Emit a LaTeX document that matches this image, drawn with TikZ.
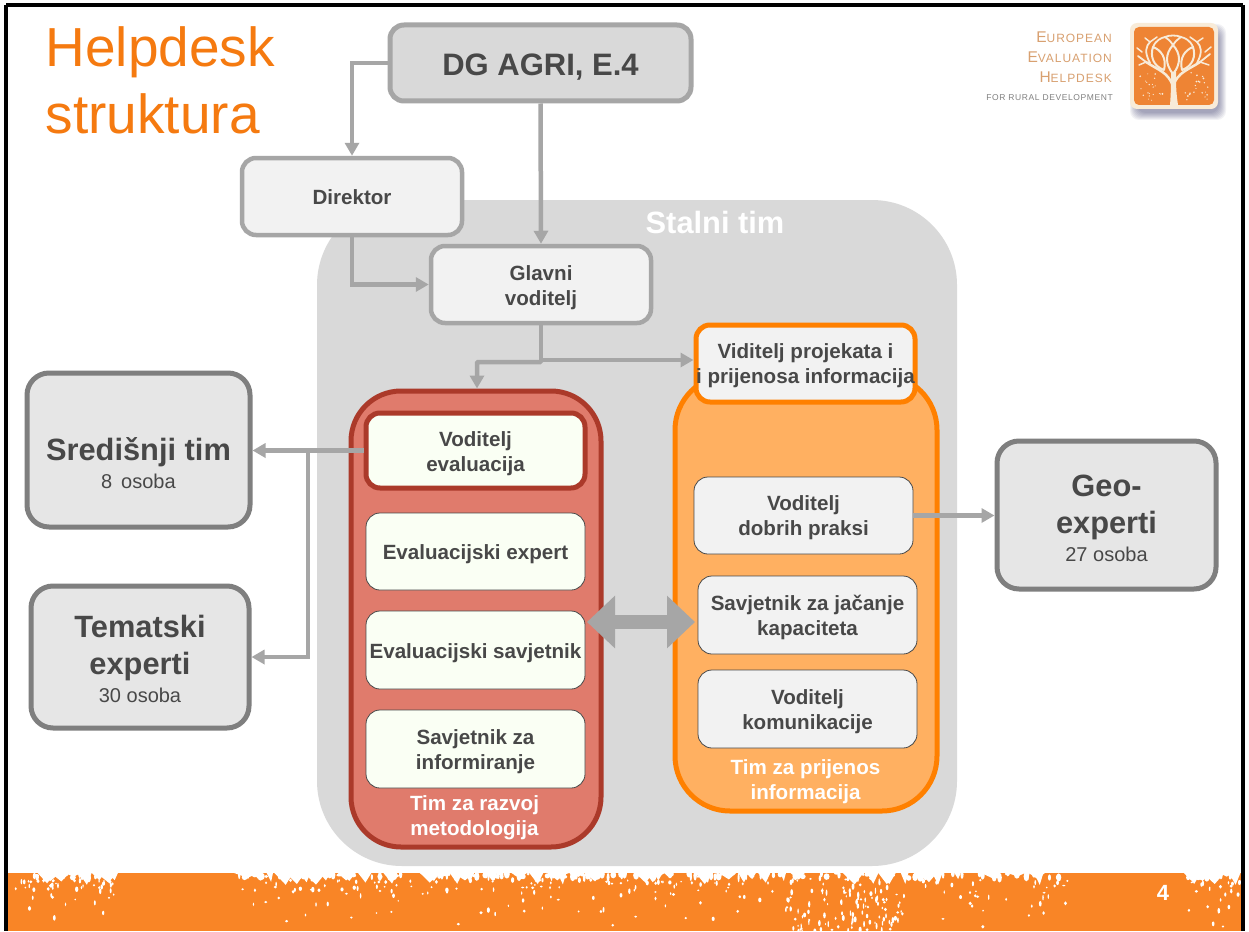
\documentclass[tikz,border=0pt]{standalone}
\usepackage{fontspec}
\setmainfont{Liberation Sans}
\usetikzlibrary{arrows.meta,calc}
\definecolor{txt}{HTML}{484848}
\definecolor{conn}{HTML}{A6A6A6}
\definecolor{bg}{HTML}{D9D9D9}
\definecolor{light}{HTML}{F2F2F2}
\definecolor{cream}{HTML}{FAFFF4}
\definecolor{org}{HTML}{FF8000}
\definecolor{orgfill}{HTML}{FFB061}
\definecolor{redl}{HTML}{AB3A2A}
\definecolor{redf}{HTML}{E07B6C}
\definecolor{band}{HTML}{F98526}
\definecolor{dark}{HTML}{7F7F7F}
\definecolor{side}{HTML}{E6E6E6}
\definecolor{title}{HTML}{F57A10}
\definecolor{logot}{HTML}{D8A070}
\definecolor{treec}{HTML}{F8EBD8}
\definecolor{logob}{HTML}{EE8434}
\tikzset{
 x=1pt,y=-1pt,
 base/.style={rounded corners=#1,align=center,inner sep=0pt,text=txt,font=\fontsize{20.6}{25}\selectfont\bfseries},
 base/.default=14pt,
 greybox/.style={base,draw=conn,line width=4.5pt,fill=light},
 topbox/.style={base,draw=conn,line width=5pt,fill=bg,font=\fontsize{31}{36}\selectfont\bfseries},
 sidebox/.style={base=22pt,draw=dark,line width=5pt,fill=side,font=\fontsize{30.8}{37}\selectfont\bfseries},
 thinbox/.style={base,draw=txt,line width=0.8pt,fill=cream},
 thinl/.style={base,draw=txt,line width=0.8pt,fill=light},
 grp/.style={base=#1,line width=5pt},
 capt/.style={align=center,inner sep=0pt,text=white,font=\fontsize{20.6}{25}\selectfont\bfseries},
 conn/.style={draw=conn,line width=4.5pt,-{Triangle[length=13pt,width=14pt]}},
 plain/.style={draw=conn,line width=4.5pt},
 speck/.style={fill=white,draw=none},
 logotxt/.style={anchor=base east,inner sep=0pt,text=logot,font=\fontsize{15.5}{16}\selectfont\addfontfeature{LetterSpace=8}},
}
\newcommand{\bx}[6]{\node[#1,minimum width={#5-#3},minimum height={#6-#4}] (#2) at ({(#3+#5)/2},{(#4+#6)/2})}
\newcommand{\num}[1]{{\fontsize{20}{24}\selectfont\mdseries #1}}
\newcommand{\sml}{\fontsize{12}{13}\selectfont}
\newcommand{\dn}[1]{\rule{0pt}{#1pt}}
\begin{document}
\begin{tikzpicture}
\useasboundingbox (0,0) rectangle (1249,931);
\fill[white] (0,0) rectangle (1249,931);
% banner
\fill[band] (8,873) rectangle (1241,931);
\pgfmathsetseed{42}
\foreach \xs/\xw/\n in {14/100/45,238/560/130,920/148/35,1186/55/22}{
 \foreach \i in {1,...,\n}{
  \pgfmathsetmacro{\xa}{\xs+rnd*\xw}
  \pgfmathsetmacro{\ya}{880+rnd*rnd*52}
  \fill[speck] (\xa,\ya) ellipse (0.7+rnd*1 and 0.8+rnd*2);
 }
}
\foreach \i in {1,...,120}{
  \pgfmathsetmacro{\xa}{785+rnd*120}
  \pgfmathsetmacro{\ya}{878+rnd*53}
  \fill[speck] (\xa,\ya) ellipse (0.6+rnd*1 and 0.8+rnd*2.5);
}
\foreach \xs/\xw/\n in {236/832/150,30/85/20,1186/55/16}{
 \foreach \i in {1,...,\n}{
  \pgfmathsetmacro{\xa}{\xs+rnd*\xw}
  \pgfmathsetmacro{\ya}{873+rnd*5}
  \fill[speck] (\xa,\ya) ellipse (1+rnd*2 and 1+rnd*4);
 }
}
\foreach \xs/\xw/\n in {240/825/70,35/78/9,1188/50/7}{
 \foreach \i in {1,...,\n}{
  \pgfmathsetmacro{\xa}{\xs+rnd*\xw}
  \pgfmathsetmacro{\wa}{3+rnd*9}
  \pgfmathsetmacro{\ha}{4+rnd*9}
  \fill[speck] (\xa-\wa,872) -- (\xa+\wa,872) -- (\xa+rnd*2,872+\ha) -- cycle;
 }
}
\node[text=white,font=\fontsize{22}{26}\selectfont\bfseries,inner sep=0pt] (pg) at (1163,893) {4};
% frame
\draw[black,line width=4pt] (6,5) -- (1243,5);
\draw[black,line width=4pt] (6,5) -- (6,931);
\draw[black,line width=4pt] (1243,5) -- (1243,931);
% title
\node[anchor=base west,inner sep=0pt,text=title,font=\fontsize{55}{66}\selectfont] (t1) at (45.5,67) {Helpdesk};
\node[anchor=base west,inner sep=0pt,text=title,font=\fontsize{55}{66}\selectfont] (t2) at (45.5,133) {struktura};
% logo
\node[logotxt] (l1) at (1112,43) {E\sml UROPEAN};
\node[logotxt] (l2) at (1112,63) {E\sml VALUATION};
\node[logotxt] (l3) at (1112,83) {H\sml ELPDESK};
\node[anchor=base east,inner sep=0pt,text=black!50,font=\fontsize{8.5}{10}\selectfont\addfontfeature{LetterSpace=7}] (l4) at (1113,101) {FOR RURAL DEVELOPMENT};
\foreach \d in {0,1,...,7}{
  \fill[blue!25!black,opacity=0.05,rounded corners=9pt] (1130+\d,24+\d) rectangle (1226-\d,120-\d);
}
\fill[treec,rounded corners=7pt] (1130,23) rectangle (1218,109);
\fill[logob,rounded corners=5pt] (1134,27) rectangle (1214,105);
\begin{scope}[line cap=round,line join=round,draw=treec]
 % trunk
 \fill[treec] (1170,105) .. controls (1171,92) and (1171,85) .. (1171,72) -- (1176,72) .. controls (1176,85) and (1176,92) .. (1178,105) -- cycle;
 % main limbs
 \draw[line width=2.5pt] (1173,86) .. controls (1168,72) and (1158,70) .. (1146,62);
 \draw[line width=2.5pt] (1173,86) .. controls (1178,72) and (1188,70) .. (1200,62);
 % central leaves
 \draw[line width=2pt] (1173,74) .. controls (1165,64) and (1165,54) .. (1173,45) .. controls (1181,54) and (1181,64) .. (1173,74);
 \draw[line width=2pt] (1164,70) .. controls (1153,66) and (1150,56) .. (1153,47) .. controls (1161,50) and (1167,58) .. (1164,70);
 \draw[line width=2pt] (1182,70) .. controls (1193,66) and (1196,56) .. (1193,47) .. controls (1185,50) and (1179,58) .. (1182,70);
 % canopy twigs
 \draw[line width=1.8pt] (1146,62) -- (1138,56);
 \draw[line width=1.8pt] (1200,62) -- (1210,54);
 \draw[line width=1.5pt] (1146,62) -- (1139,65);
 \draw[line width=1.5pt] (1200,62) -- (1209,65);
 \draw[line width=1.8pt] (1150,63) .. controls (1144,52) and (1146,46) .. (1150,42);
 \draw[line width=1.8pt] (1197,63) .. controls (1203,52) and (1201,46) .. (1197,42);
 \draw[line width=1.8pt] (1153,47) .. controls (1156,40) and (1161,38) .. (1165,37);
 \draw[line width=1.8pt] (1193,47) .. controls (1190,40) and (1185,38) .. (1181,37);
 \draw[line width=1.8pt] (1173,45) .. controls (1170,40) and (1166,38) .. (1165,37) .. controls (1169,35) and (1177,35) .. (1181,37) .. controls (1180,38) and (1176,40) .. (1173,45);
 \draw[line width=1.5pt] (1150,42) -- (1145,38);
 \draw[line width=1.5pt] (1197,42) -- (1203,38);
 \draw[line width=1.5pt] (1150,42) -- (1157,37);
 \draw[line width=1.5pt] (1197,42) -- (1190,37);
 \draw[line width=1.5pt] (1142,52) -- (1137,48);
 \draw[line width=1.5pt] (1205,52) -- (1211,47);
\end{scope}
\foreach \xs in {1140,1184}{
 \foreach \i in {1,...,22}{
  \pgfmathsetmacro{\xa}{\xs+rnd*24}
  \pgfmathsetmacro{\ya}{72+rnd*30}
  \fill[treec] (\xa,\ya) circle (0.5+rnd*0.5);
 }
}
% big team background
\bx{base=85pt,fill=bg}{stalni}{317}{200}{957}{866} {};
\node[text=white,font=\fontsize{30.8}{34}\selectfont\bfseries,inner sep=0pt] (stalnit) at (715,222) {Stalni tim};
% groups
\bx{grp=50pt,draw=redl,fill=redf}{redg}{351}{391}{601}{847} {};
\bx{grp=55pt,draw=org,fill=orgfill}{orgg}{675}{375}{937}{811} {};
\node[capt] (redc) at (474.5,818) {Tim za razvoj\\metodologija};
\node[capt] (orgc) at (805.5,781.5) {Tim za prijenos\\informacija};
% boxes
\bx{topbox}{dg}{390}{25}{691}{101} {\dn{29}DG AGRI, E.4};
\bx{greybox}{dir}{242}{158}{462}{235} {\dn{17}Direktor};
\bx{greybox}{gl}{431}{246}{651}{323} {\dn{21}Glavni\\voditelj};
\bx{base,draw=org,line width=5pt,fill=light}{vid}{696}{325}{915}{402} {\dn{20}Viditelj projekata i\\i prijenosa informacija};
\bx{base,draw=redl,line width=5pt,fill=cream}{ve}{366}{413}{585}{488} {\dn{21}Voditelj\\evaluacija};
\bx{thinbox}{ee}{366}{513}{585}{590} {\dn{21}Evaluacijski expert};
\bx{thinbox}{es}{366}{611}{585}{689} {\dn{21}Evaluacijski savjetnik};
\bx{thinbox}{si}{366}{710}{585}{788} {\dn{21}Savjetnik za\\informiranje};
\bx{thinl}{vd}{694}{477}{913}{554} {\dn{20}Voditelj\\dobrih praksi};
\bx{thinl}{sj}{698}{576}{917}{654} {\dn{21}Savjetnik za jačanje\\kapaciteta};
\bx{thinl}{vk}{698}{670}{917}{748} {\dn{21}Voditelj\\komunikacije};
\bx{sidebox}{sr}{27}{373}{250}{527} {\dn{50}Središnji tim\\[-9pt]\num{8\, osoba}};
\bx{sidebox}{te}{31}{586}{249}{728} {\dn{27}Tematski\\experti\\[-9pt]\num{30 osoba}};
\bx{sidebox}{ge}{997}{441}{1216}{589} {\dn{29}Geo-\\experti\\[-9pt]\num{27 osoba}};
% connectors
\draw[conn] (dg.west) -| (dir.north);
\draw[conn] (dg.south) -- (gl.north);
\draw[conn] (dir.south) |- (gl.west);
\coordinate (j1) at (gl.south |- 0,360);
\coordinate (j2) at (477,362);
\draw[plain] (gl.south) -- (j1);
\draw[conn] (j1) -- (j1 -| vid.west);
\draw[conn,rounded corners=1pt] (j1) |- (j2) -- (j2 |- redg.north);
\draw[conn] (ve.west) -- (ve.west -| sr.east);
\coordinate (j3) at (308,0 |- ve.west);
\draw[conn] (j3) |- (te.east);
\draw[conn] (vd.east) -- (vd.east -| ge.west);
\coordinate (d1) at (587,622);
\coordinate (d2) at (695,622);
\draw[conn,line width=14pt,{Triangle[length=28pt,width=51pt]}-{Triangle[length=28pt,width=51pt]}] (d1) -- (d2);
\end{tikzpicture}
\end{document}
